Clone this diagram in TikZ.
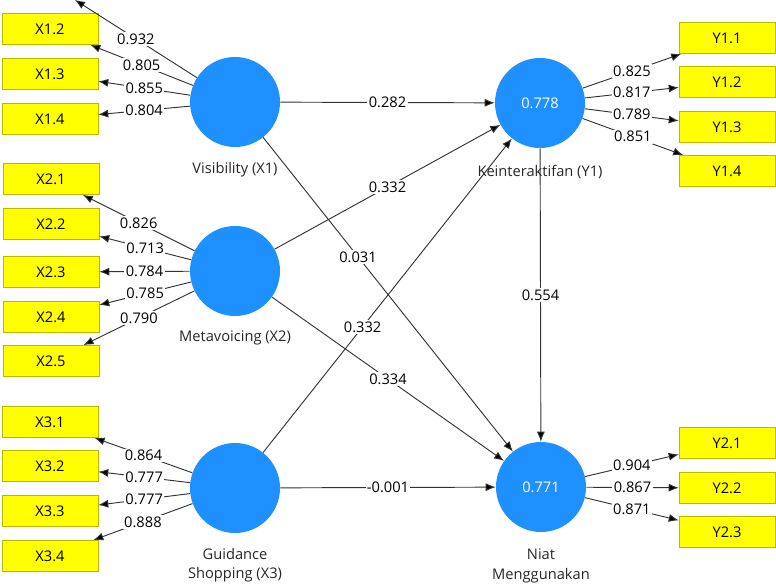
\documentclass[tikz,border=0pt]{standalone}
\usepackage{fontspec}
\setmainfont{Open Sans}
\usetikzlibrary{arrows.meta}
\definecolor{plsblue}{RGB}{30,144,255}
\definecolor{plsyellow}{RGB}{255,255,0}
\definecolor{plsedge}{RGB}{185,185,0}
\begin{document}
\begin{tikzpicture}[x=0.75pt, y=-0.75pt,
	every node/.style={font=\fontsize{11}{14.5}\selectfont},
	item/.style={shape=rectangle, draw=plsedge, fill=plsyellow, minimum width=72pt, minimum height=23.5pt, inner sep=0pt},
	latent/.style={shape=circle, fill=plsblue, text=white, minimum size=67.5pt, inner sep=0pt},
	caption/.style={text=black!85, align=center},
	coef/.style={fill=white, inner sep=1pt},
	link/.style={-{Latex[length=7.5pt,width=6pt]}, draw=black!80, line width=0.7pt}]
	\useasboundingbox (0,0) rectangle (776,585);

	% latent variables
	\node[latent] (vis)   at (235,102) {};
	\node[latent] (meta)  at (235,271) {};
	\node[latent] (guide) at (235,488) {};
	\node[latent] (inter) at (540,103) {0.778};
	\node[latent] (niat)  at (541,487) {0.771};

	\node[caption] (visl)   at (235,170) {Visibility (X1)};
	\node[caption] (metal)  at (235,338) {Metavoicing (X2)};
	\node[caption] (guidel) at (235,565) {Guidance\\Shopping (X3)};
	\node[caption] (interl) at (540,172) {Keinteraktifan (Y1)};
	\node[caption] (niatl)  at (541,566) {Niat\\Menggunakan};

	% indicators (X1.1 lies above the top edge)
	\node[item] (x11) at (50,-16) {};
	\node[item] (x12) at (50,29)  {X1.2};
	\node[item] (x13) at (50,74)  {X1.3};
	\node[item] (x14) at (50,119) {X1.4};

	\node[item] (x21) at (51,179) {X2.1};
	\node[item] (x22) at (51,224) {X2.2};
	\node[item] (x23) at (51,272) {X2.3};
	\node[item] (x24) at (51,317) {X2.4};
	\node[item] (x25) at (51,361) {X2.5};

	\node[item] (x31) at (50,422) {X3.1};
	\node[item] (x32) at (50,466) {X3.2};
	\node[item] (x33) at (50,511) {X3.3};
	\node[item] (x34) at (50,556) {X3.4};

	\node[item] (y11) at (727,38)  {Y1.1};
	\node[item] (y12) at (727,82)  {Y1.2};
	\node[item] (y13) at (727,127) {Y1.3};
	\node[item] (y14) at (727,171) {Y1.4};

	\node[item] (y21) at (727,443) {Y2.1};
	\node[item] (y22) at (727,488) {Y2.2};
	\node[item] (y23) at (727,532) {Y2.3};

	% outer loadings
	\path [link] (vis) edge node[coef] {0.932} (x11);
	\path [link] (vis) edge node[coef] {0.805} (x12);
	\path [link] (vis) edge node[coef] {0.855} (x13);
	\path [link] (vis) edge node[coef] {0.804} (x14);

	\path [link] (meta) edge node[coef] {0.826} (x21);
	\path [link] (meta) edge node[coef] {0.713} (x22);
	\path [link] (meta) edge node[coef] {0.784} (x23);
	\path [link] (meta) edge node[coef] {0.785} (x24);
	\path [link] (meta) edge node[coef] {0.790} (x25);

	\path [link] (guide) edge node[coef] {0.864} (x31);
	\path [link] (guide) edge node[coef] {0.777} (x32);
	\path [link] (guide) edge node[coef] {0.777} (x33);
	\path [link] (guide) edge node[coef] {0.888} (x34);

	\path [link] (inter) edge node[coef] {0.825} (y11);
	\path [link] (inter) edge node[coef] {0.817} (y12);
	\path [link] (inter) edge node[coef] {0.789} (y13);
	\path [link] (inter) edge node[coef] {0.851} (y14);

	\path [link] (niat) edge node[coef] {0.904} (y21);
	\path [link] (niat) edge node[coef] {0.867} (y22);
	\path [link] (niat) edge node[coef] {0.871} (y23);

	% inner model
	\path [link] (vis)   edge node[coef]           {0.282}  (inter);
	\path [link] (meta)  edge node[coef]           {0.332}  (inter);
	\path [link] (guide) edge node[coef, pos=0.40] {0.332}  (inter);
	\path [link] (vis)   edge node[coef, pos=0.38] {0.031}  (niat);
	\path [link] (meta)  edge node[coef]           {0.334}  (niat);
	\path [link] (guide) edge node[coef]           {-0.001} (niat);
	\path [link] (inter) edge node[coef]           {0.554}  (niat);
\end{tikzpicture}
\end{document}
